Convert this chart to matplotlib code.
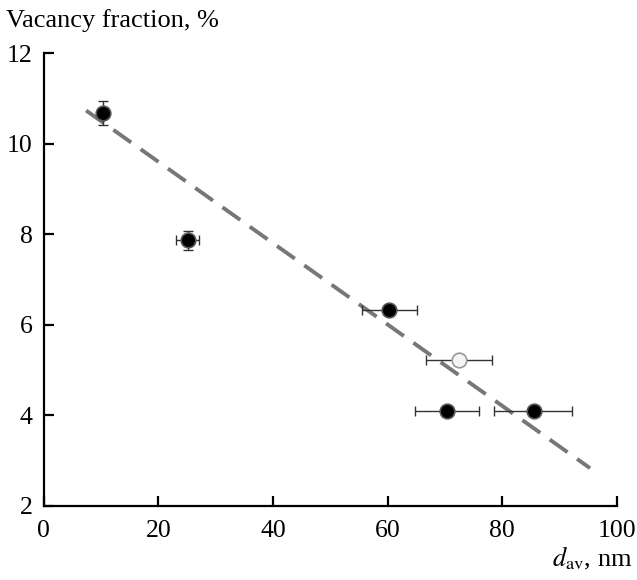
import matplotlib.pyplot as plt

plt.rcParams['font.family'] = ['Liberation Serif', 'DejaVu Serif']
plt.rcParams['mathtext.fontset'] = 'stix'

# filled points
d_filled = [10.4, 25.1, 60.3, 70.3, 85.5]
v_filled = [10.68, 7.86, 6.33, 4.10, 4.10]
xerr_lo = [0.0, 2.0, 4.7, 5.6, 6.9]
xerr_hi = [0.0, 2.0, 4.9, 5.7, 6.7]
yerr = [0.27, 0.2, 0.0, 0.0, 0.0]

# open point
d_open = [72.4]
v_open = [5.22]
xerr_open = [5.8]

# fitted line
fit_x = [7.4, 95.3]
fit_y = [10.73, 2.83]

fig = plt.figure(figsize=(6.37, 5.8), dpi=100)
ax = fig.add_axes([0.0686, 0.128, 0.9, 0.7806])

ax.plot(fit_x, fit_y, color='#777777', lw=2.8, dashes=(5.6, 3.0), zorder=1)

ax.errorbar(d_filled, v_filled, xerr=[xerr_lo, xerr_hi], yerr=yerr, fmt='none',
            ecolor='#333333', elinewidth=1.0, capsize=3.5, capthick=1.0, zorder=2)
ax.plot(d_filled, v_filled, 'o', ms=10.5, mfc='black', mec='#555555', mew=1.2, zorder=3)

ax.errorbar(d_open, v_open, xerr=xerr_open, fmt='none',
            ecolor='#333333', elinewidth=1.0, capsize=3.5, capthick=1.0, zorder=2)
ax.plot(d_open, v_open, 'o', ms=10.5, mfc='#f4f4f4', mec='#999999', mew=1.2, zorder=3)

ax.set_xlim(0, 100)
ax.set_ylim(2, 12)
ax.set_xticks([0, 20, 40, 60, 80, 100])
ax.set_yticks([2, 4, 6, 8, 10, 12])

for s in ['top', 'right']:
    ax.spines[s].set_visible(False)
for s in ['left', 'bottom']:
    ax.spines[s].set_linewidth(1.6)
ax.tick_params(direction='in', length=7, width=1.6, labelsize=18.5)
ax.tick_params(axis='x', pad=10)
ax.tick_params(axis='y', pad=8)

fig.text(0.01, 0.965, 'Vacancy fraction, %', fontsize=19, va='center', ha='left')
fig.text(0.993, 0.038, r'$d_{\mathrm{av}}$, nm', fontsize=19, va='center', ha='right')

plt.savefig('out.png', dpi=100)
